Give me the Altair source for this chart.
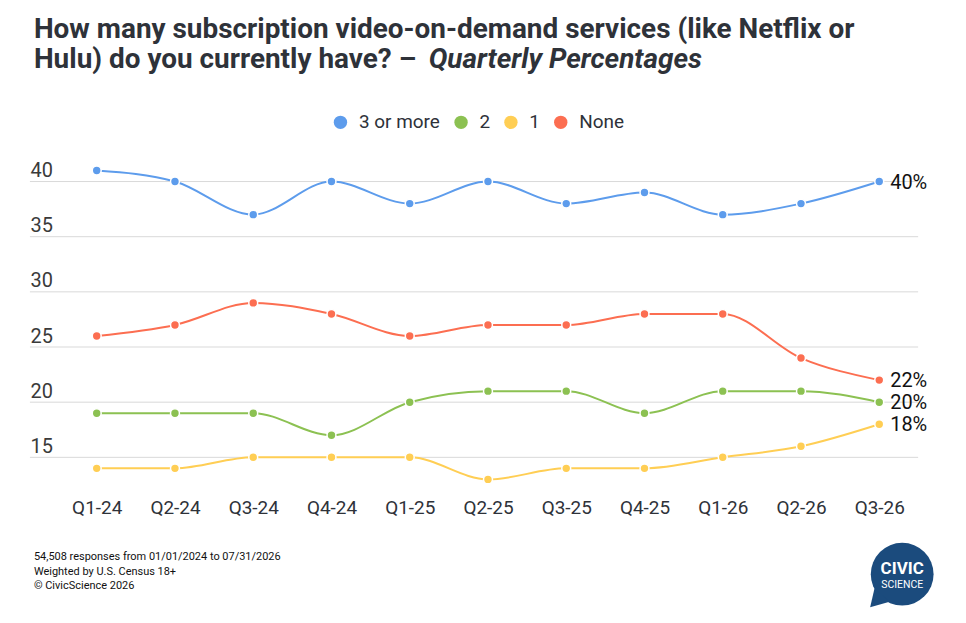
import altair as alt
import pandas as pd

quarters = ["Q1-24", "Q2-24", "Q3-24", "Q4-24", "Q1-25", "Q2-25", "Q3-25",
            "Q4-25", "Q1-26", "Q2-26", "Q3-26"]
series_names = ["3 or more", "2", "1", "None"]
three_plus = [41, 40, 37, 40, 38, 40, 38, 39, 37, 38, 40]
two = [19, 19, 19, 17, 20, 21, 21, 19, 21, 21, 20]
one = [14, 14, 15, 15, 15, 13, 14, 14, 15, 16, 18]
none_ = [26, 27, 29, 28, 26, 27, 27, 28, 28, 24, 22]
colors = ["#5D9CEC", "#8CC152", "#FFCE54", "#FC6E51"]
y_ticks = [15, 20, 25, 30, 35, 40]

title_line1 = "How many subscription video-on-demand services (like Netflix or"
title_line2 = "Hulu) do you currently have? \u2013"
title_italic = "Quarterly Percentages"
footer_lines = ["54,508 responses from 01/01/2024 to 07/31/2026",
                "Weighted by U.S. Census 18+",
                "\u00a9 CivicScience 2026"]

rows = []
for name, vals in zip(series_names, [three_plus, two, one, none_]):
    for q, v in zip(quarters, vals):
        rows.append({"quarter": q, "series": name, "value": v,
                     "label": f"{v}%"})
df = pd.DataFrame(rows)
last_df = df[df["quarter"] == quarters[-1]]
grid_df = pd.DataFrame({"value": y_ticks})

FONT = "Roboto"
TXT = "#2E3239"
W, H = 891, 332

x_enc = alt.X("quarter:N", sort=quarters,
              scale=alt.Scale(range=[67, 852], padding=0),
              axis=alt.Axis(title=None, labelAngle=0, domain=False, ticks=False,
                            grid=False, labelFontSize=19, labelFont=FONT,
                            labelColor=TXT, labelBaseline="alphabetic",
                            labelPadding=23))
y_scale = alt.Scale(domain=[12, 42], nice=False, zero=False)
y_axis = alt.Axis(title=None, values=y_ticks, domain=False, ticks=False,
                  tickSize=0, grid=False,
                  labelAlign="left", labelBaseline="alphabetic",
                  labelPadding=0, labelOffset=-5, labelFontSize=20,
                  labelFont=FONT, labelColor="#3A3A3A")
y_enc = alt.Y("value:Q", scale=y_scale, axis=y_axis)
legend = alt.Legend(title=None, orient="none", legendX=302, legendY=-47,
                    direction="horizontal", symbolType="circle", symbolSize=180,
                    symbolStrokeWidth=0, labelFontSize=19, labelFont=FONT,
                    labelColor=TXT, labelOffset=9, columnPadding=11, padding=0)
color_enc = alt.Color("series:N", sort=series_names,
                      scale=alt.Scale(domain=series_names, range=colors),
                      legend=legend)

grid = alt.Chart(grid_df).mark_rule(color="#D9D9D9", strokeWidth=1).encode(
    y=y_enc, x=alt.value(0), x2=alt.value(W))
lines = alt.Chart(df).mark_line(interpolate="monotone", strokeWidth=2).encode(
    x=x_enc, y=y_enc, color=color_enc)
points = alt.Chart(df).mark_circle(size=80, opacity=1, stroke="white",
                                   strokeWidth=1.5).encode(
    x=x_enc, y=y_enc, color=color_enc)
end_labels = alt.Chart(last_df).mark_text(
    align="left", baseline="middle", dx=11, dy=1, fontSize=20, font=FONT,
    color="#111111").encode(x=x_enc, y=y_enc, text="label:N")

t1 = alt.Chart(pd.DataFrame({"t": [title_line1]})).mark_text(
    align="left", baseline="alphabetic", fontSize=28, fontWeight="bold",
    font=FONT, color=TXT).encode(x=alt.value(4), y=alt.value(-122), text="t:N")
t2 = alt.Chart(pd.DataFrame({"t": [title_line2]})).mark_text(
    align="left", baseline="alphabetic", fontSize=28, fontWeight="bold",
    font=FONT, color=TXT).encode(x=alt.value(4), y=alt.value(-92), text="t:N")
t3 = alt.Chart(pd.DataFrame({"t": [title_italic]})).mark_text(
    align="left", baseline="alphabetic", fontSize=28, fontWeight="bold",
    fontStyle="italic", font=FONT, color=TXT).encode(
    x=alt.value(400), y=alt.value(-92), text="t:N")

footer_layers = []
for i, line in enumerate(footer_lines):
    footer_layers.append(
        alt.Chart(pd.DataFrame({"t": [line]})).mark_text(
            align="left", baseline="alphabetic", fontSize=11, font=FONT,
            color="#111111").encode(x=alt.value(4), y=alt.value(402 + 14.5 * i),
                                    text="t:N"))

logo_df = pd.DataFrame({"k": ["logo"]})
LOGO = "#1B4B7D"
logo_circle = alt.Chart(logo_df).mark_point(
    shape="circle", filled=True, size=3969, color=LOGO, opacity=1).encode(
    x=alt.value(875), y=alt.value(416))
logo_tail = alt.Chart(logo_df).mark_point(
    shape="M -0.88 0.45 L -1.02 1.05 L -0.4 0.88 Z", filled=True, size=3969,
    color=LOGO, opacity=1).encode(x=alt.value(875), y=alt.value(416))
logo_t1 = alt.Chart(pd.DataFrame({"t": ["CIVIC"]})).mark_text(
    align="center", baseline="middle", fontSize=17, fontWeight="bold",
    font=FONT, color="white").encode(x=alt.value(875), y=alt.value(411), text="t:N")
logo_t2 = alt.Chart(pd.DataFrame({"t": ["SCIENCE"]})).mark_text(
    align="center", baseline="middle", fontSize=10.5, font=FONT,
    color="white").encode(x=alt.value(875), y=alt.value(427), text="t:N")

chart = alt.layer(grid, lines, points, end_labels, t1, t2, t3, *footer_layers,
                  logo_circle, logo_tail, logo_t1, logo_t2).properties(
    width=W, height=H, background="white",
    autosize=alt.AutoSizeParams(type="none"),
    padding={"left": 22, "top": 151, "right": 40, "bottom": 120},
).configure_view(strokeWidth=0, stroke="transparent")

chart.save("out.html", embed_options={"renderer": "svg", "actions": False})
